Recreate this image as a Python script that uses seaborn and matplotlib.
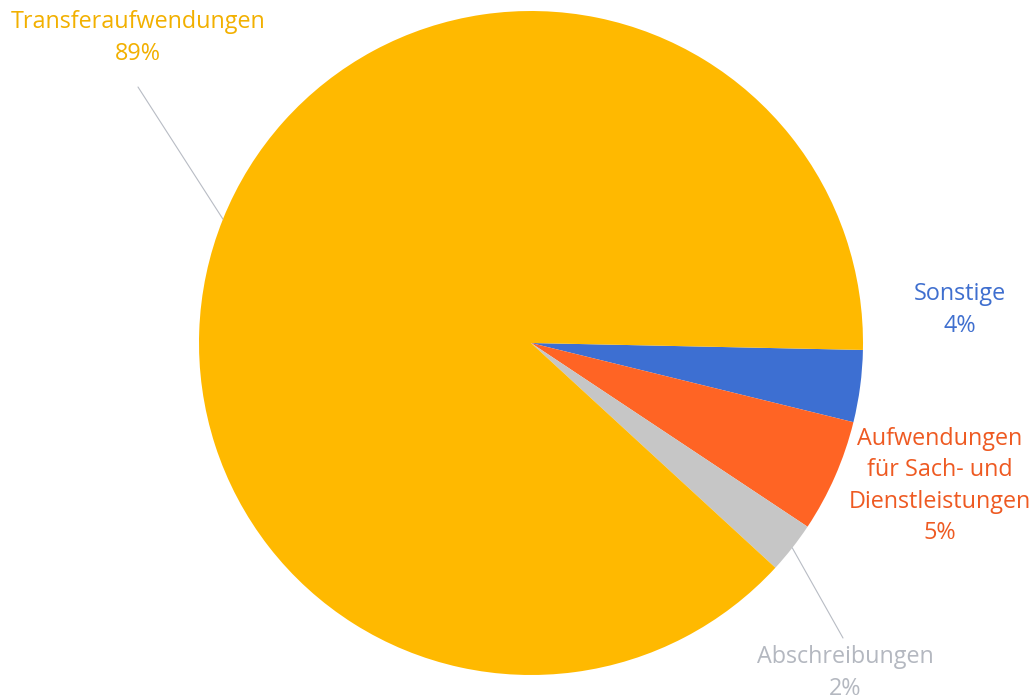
import numpy as np
import matplotlib
matplotlib.use("Agg")
import matplotlib.pyplot as plt
import seaborn as sns

# ---- data ----
categories = ["Sonstige", "Aufwendungen\nfür Sach- und\nDienstleistungen", "Abschreibungen", "Transferaufwendungen"]
values = [3.5, 5.5, 2.5, 88.5]
pct_labels = ["4%", "5%", "2%", "89%"]
colors = ["#3D6FD2", "#FF6424", "#C6C6C6", "#FFB900"]
text_colors = ["#3F6FCF", "#EE5A22", "#B4B8C0", "#F2B000"]

sns.set_theme(style="white")
plt.rcParams['font.family'] = ['Open Sans', 'DejaVu Sans']

W, H = 1035, 700
fig = plt.figure(figsize=(W / 100, H / 100), dpi=100)
ax = fig.add_axes([0, 0, 1, 1])

cx, cy, R = 531.0, 343.0, 332.0   # pixel centre & radius


def px(x, y):
    return (x - cx) / R, (cy - y) / R


wedges, _ = ax.pie(values, colors=colors, startangle=-1.2, counterclock=False,
                   radius=1.0, wedgeprops=dict(linewidth=0))

ax.set_aspect('auto')
ax.set_xlim(-cx / R, (W - cx) / R)
ax.set_ylim(-(H - cy) / R, cy / R)
ax.axis('off')

# label positions (pixel centre of text block)
label_pos = [(960, 310), (940, 486), (845, 673), (138, 38)]
fs = 16.8
for i, (cat, pct) in enumerate(zip(categories, pct_labels)):
    tx, ty = px(*label_pos[i])
    ax.text(tx, ty, f"{cat}\n{pct}", ha="center", va="center", fontsize=fs,
            color=text_colors[i], linespacing=1.42)

# leader lines for Abschreibungen and Transferaufwendungen
leaders = {2: (843, 638), 3: (138, 87)}
for i, end in leaders.items():
    w = wedges[i]
    mid = np.deg2rad((w.theta1 + w.theta2) / 2)
    sx, sy = np.cos(mid), np.sin(mid)
    ex, ey = px(*end)
    ax.plot([sx, ex], [sy, ey], color="#B8BCC4", linewidth=0.8)

fig.savefig("out.png", dpi=100)
